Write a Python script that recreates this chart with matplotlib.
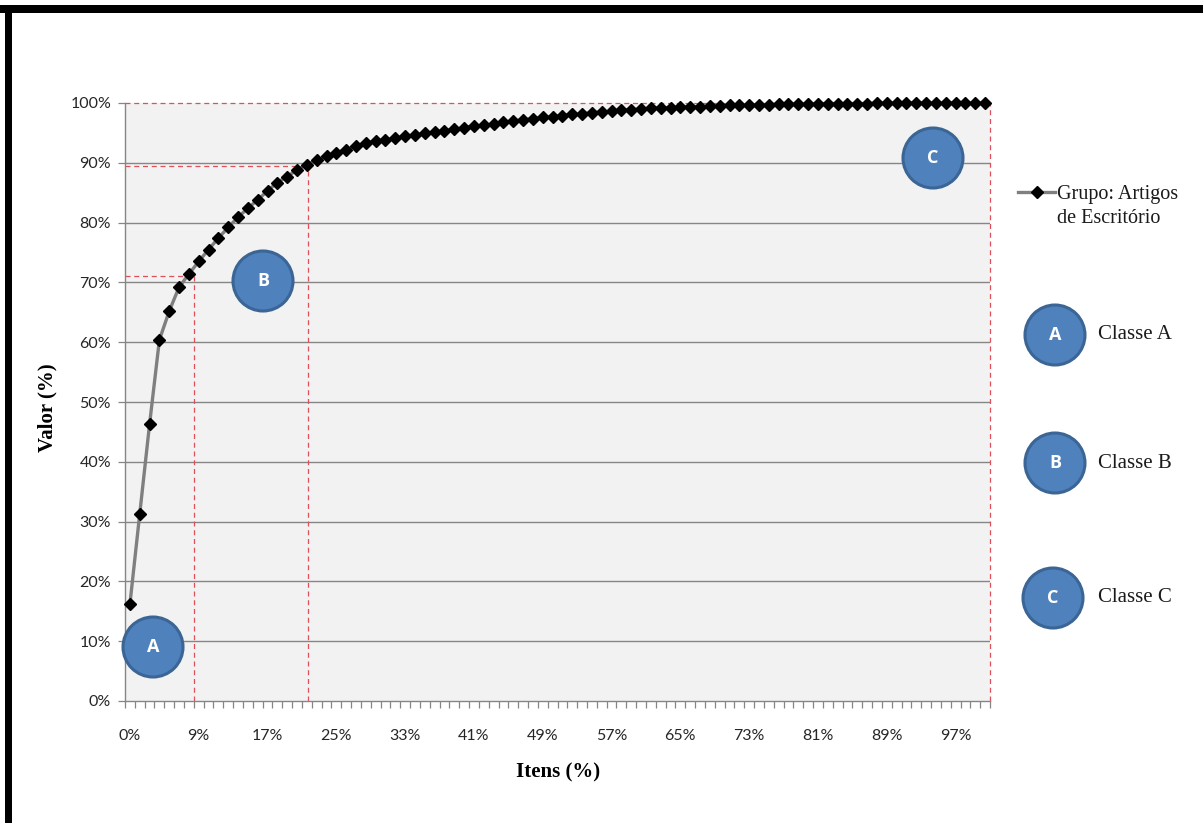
import numpy as np
import matplotlib
matplotlib.use("Agg")
import matplotlib.pyplot as plt
from matplotlib.patches import Ellipse, Rectangle

# Curva ABC - valor acumulado (%) por item
valor_acum = [
    16.2, 31.3, 46.3, 60.4, 65.2, 69.2, 71.4, 73.5, 75.5, 77.4,
    79.2, 80.9, 82.4, 83.8, 85.3, 86.7, 87.7, 88.8, 89.7, 90.4,
    91.1, 91.7, 92.2, 92.8, 93.3, 93.6, 93.8, 94.1, 94.4, 94.6,
    94.9, 95.1, 95.4, 95.6, 95.9, 96.1, 96.3, 96.5, 96.8, 97.0,
    97.2, 97.4, 97.6, 97.7, 97.9, 98.1, 98.2, 98.4, 98.5, 98.6,
    98.8, 98.9, 99.0, 99.1, 99.2, 99.2, 99.3, 99.4, 99.4, 99.5,
    99.5, 99.6, 99.6, 99.7, 99.7, 99.7, 99.8, 99.8, 99.8, 99.8,
    99.9, 99.9, 99.9, 99.9, 99.9, 99.9, 100.0, 100.0, 100.0, 100.0,
    100.0, 100.0, 100.0, 100.0, 100.0, 100.0, 100.0, 100.0,
]
itens_labels = ["0%", "9%", "17%", "25%", "33%", "41%", "49%",
                "57%", "65%", "73%", "81%", "89%", "97%"]
label_step = 7

# limites das classes (posicao do item, valor acumulado)
lim_ab = (6.55, 71.1)
lim_bc = (18.1, 89.4)

classes = ["A", "B", "C"]
classe_txt = ["Classe A", "Classe B", "Classe C"]

n = len(valor_acum)
x = np.arange(n)

W, H = 1203, 823
fig = plt.figure(figsize=(W / 100, H / 100), dpi=100)
fig.patch.set_facecolor("white")

ax = fig.add_axes([125 / W, 1 - 701 / H, 865 / W, 598 / H])
ax.set_facecolor("#f2f2f2")

grid_c = "#868686"
ax.set_xlim(-0.5, n - 0.5)
ax.set_ylim(0, 100)
ax.set_yticks(np.arange(0, 101, 10))
ax.set_yticklabels([f"{v}%" for v in range(0, 101, 10)])
for v in range(10, 100, 10):
    ax.axhline(v, color=grid_c, linewidth=1.0, zorder=1)

ax.set_xticks(np.arange(0, n, label_step)[:len(itens_labels)])
ax.set_xticklabels(itens_labels)
ax.set_xticks(np.arange(-0.5, n, 1.0), minor=True)
ax.tick_params(axis="x", which="major", length=0, pad=20, labelsize=11.5,
               labelcolor="#262626")
ax.tick_params(axis="x", which="minor", length=5, width=0.9, color=grid_c,
               direction="out")
ax.tick_params(axis="y", which="major", length=5, width=0.9, color=grid_c,
               labelsize=11.5, labelcolor="#262626", pad=5)
for lab in ax.get_xticklabels() + ax.get_yticklabels():
    lab.set_family(["Lato", "DejaVu Sans"])

for s in ["top", "right"]:
    ax.spines[s].set_visible(False)
for s in ["left", "bottom"]:
    ax.spines[s].set_color(grid_c)
    ax.spines[s].set_linewidth(1.0)

# linhas tracejadas que delimitam as classes
red = "#e0505a"
dash = dict(color=red, linewidth=0.9, linestyle=(0, (4, 3)), zorder=2,
            clip_on=False)
ax.plot([-0.5, n - 0.5], [100, 100], **dash)
ax.plot([n - 0.5, n - 0.5], [0, 100], **dash)
ax.plot([-0.5, lim_ab[0]], [lim_ab[1], lim_ab[1]], **dash)
ax.plot([lim_ab[0], lim_ab[0]], [0, lim_ab[1]], **dash)
ax.plot([-0.5, lim_bc[0]], [lim_bc[1], lim_bc[1]], **dash)
ax.plot([lim_bc[0], lim_bc[0]], [0, lim_bc[1]], **dash)

ax.plot(x, valor_acum, color="#7f7f7f", linewidth=2.4, zorder=3,
        marker="D", markersize=6.4, markerfacecolor="black",
        markeredgecolor="black", clip_on=False)

serif = ["Liberation Serif", "DejaVu Serif"]
ax.set_xlabel("Itens (%)", fontsize=15, fontweight="bold", family=serif)
ax.set_ylabel("Valor (%)", fontsize=15, fontweight="bold", family=serif)
ax.xaxis.set_label_coords((558 - 125) / 865, -(762 - 701) / 598)
ax.yaxis.set_label_coords(-(125 - 57) / 865, (701 - 408) / 598)


def circulo(px, py, letra, r=30):
    # circulo azul com letra, em pixels da figura
    fig.add_artist(Ellipse((px / W, 1 - py / H), 2 * r / W, 2 * r / H,
                           transform=fig.transFigure, facecolor="#4f81bd",
                           edgecolor="#3a6594", linewidth=2.2, zorder=10))
    fig.text(px / W, 1 - py / H, letra, ha="center", va="center",
             color="white", fontsize=13, fontweight="bold",
             family=["Open Sans", "DejaVu Sans"], zorder=11)


# marcadores das classes no grafico
for (px, py), letra in zip([(153, 647), (263, 281), (933, 158)], classes):
    circulo(px, py, letra)

# legenda da serie
fig.add_artist(plt.Line2D([1018 / W, 1055 / W], [1 - 192 / H, 1 - 192 / H],
                          color="#7f7f7f", linewidth=2.4))
fig.add_artist(plt.Line2D([1036.5 / W], [1 - 192 / H], marker="D",
                          markersize=6.0, color="black"))
fig.text(1057 / W, 1 - 206.5 / H, "Grupo: Artigos\nde Escritório",
         ha="left", va="center", fontsize=14.5, family=serif,
         color="#1a1a1a", linespacing=1.38)

# legenda das classes
for (py, px), letra, txt in zip([(335, 1055), (463, 1055), (598, 1053)],
                                classes, classe_txt):
    circulo(px, py, letra)
    fig.text(1098 / W, 1 - py / H, txt, ha="left", va="center",
             fontsize=15, family=serif, color="#1a1a1a")

# moldura preta
fig.add_artist(Rectangle((0, 1 - 13 / H), 1, 8 / H, transform=fig.transFigure,
                         facecolor="black", edgecolor="none"))
fig.add_artist(Rectangle((5 / W, 0), 7 / W, 1 - 5 / H,
                         transform=fig.transFigure, facecolor="black",
                         edgecolor="none"))

fig.savefig("out.png", dpi=100)
